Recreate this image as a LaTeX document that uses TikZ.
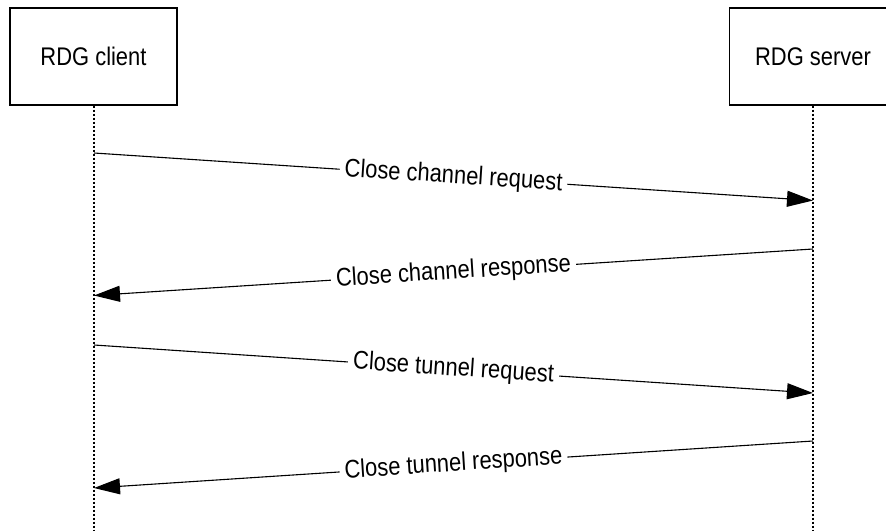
\documentclass[tikz,border=0pt]{standalone}
\usepackage{fontspec}
\setmainfont{Liberation Sans}
\newfontfamily\narrowfont[FakeStretch=0.86]{Liberation Sans}
\usetikzlibrary{arrows.meta}
\begin{document}
\begin{tikzpicture}[x=1pt,y=-1pt,
  actor/.style={draw=black,line width=1.2pt,minimum width=167pt,minimum height=97pt,inner sep=0pt,font=\narrowfont\fontsize{25.5}{30}\selectfont},
  lifeline/.style={line width=1.1pt,dash pattern=on 2pt off 2pt},
  msg/.style={line width=1.1pt,-{Triangle[length=26pt,width=16pt]}},
  lbl/.style={midway,sloped,fill=white,inner xsep=5pt,inner ysep=1pt,font=\narrowfont\fontsize{25.5}{30}\selectfont}]
\clip (0,0) rectangle (886,531);
\useasboundingbox (0,0) rectangle (886,531);
\node[actor] (client) at (93.5,56.5) {RDG client};
\node[actor] (server) at (813,56.5) {RDG server};
\coordinate (cend) at (94,531);
\coordinate (send) at (813,531);
\draw[lifeline] (client.south -| cend) -- (cend);
\draw[lifeline] (server.south -| send) -- (send);
\coordinate (c1) at (94,153);
\coordinate (s1) at (813,200.5);
\coordinate (s2) at (813,249);
\coordinate (c2) at (94,295.5);
\coordinate (c3) at (94,345);
\coordinate (s3) at (813,393);
\coordinate (s4) at (813,441);
\coordinate (c4) at (94,488);
\draw[msg] (c1) -- node[lbl] {Close channel request} (s1);
\draw[msg] (s2) -- node[lbl] {Close channel response} (c2);
\draw[msg] (c3) -- node[lbl] {Close tunnel request} (s3);
\draw[msg] (s4) -- node[lbl] {Close tunnel response} (c4);
\end{tikzpicture}
\end{document}
